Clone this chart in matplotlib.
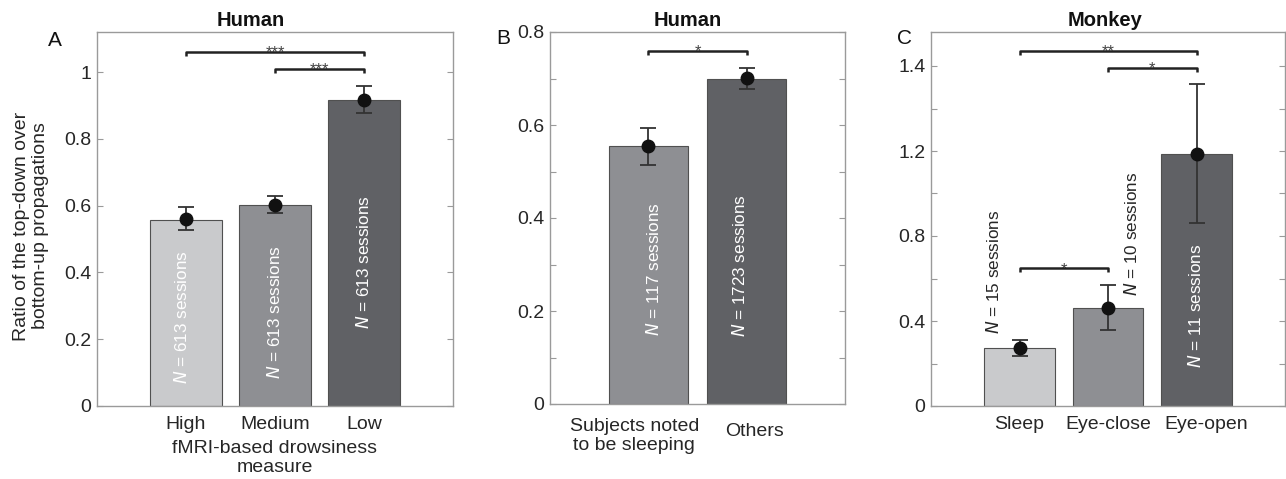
import matplotlib
matplotlib.use("Agg")
import matplotlib.pyplot as plt
import matplotlib.transforms as mtrans

plt.rcParams['font.family'] = ['Liberation Sans', 'DejaVu Sans']

# ---- data ----
a_categories = ["High", "Medium", "Low"]
a_values = [0.557, 0.602, 0.915]
a_dots = [0.561, 0.603, 0.915]
a_err_low = [0.528, 0.579, 0.876]
a_err_high = [0.596, 0.629, 0.958]
a_labels = ["613", "613", "613"]

b_categories = ["Subjects noted\nto be sleeping", "Others"]
b_values = [0.554, 0.700]
b_dots = [0.554, 0.701]
b_err_low = [0.514, 0.678]
b_err_high = [0.594, 0.722]
b_labels = ["117", "1723"]

c_categories = ["Sleep", "Eye-close", "Eye-open"]
c_values = [0.275, 0.461, 1.184]
c_dots = [0.275, 0.463, 1.186]
c_err_low = [0.234, 0.356, 0.861]
c_err_high = [0.312, 0.568, 1.515]
c_labels = ["15", "10", "11"]
c_ticks = [0, 0.4, 0.8, 1.2, 1.6]
c_ticklabels = ["0", "0.4", "0.8", "1.2", "1.4"]

LIGHT, MID, DARK = "#c9cacc", "#8e8f93", "#606165"
EDGE = "#505050"
SPINE = "#9a9a9a"
TXT = "#262626"
FS = 14

W, H = 1286, 479
fig = plt.figure(figsize=(W / 100, H / 100), dpi=100)

def px_axes(l, t, r, b):
    return fig.add_axes([l / W, 1 - b / H, (r - l) / W, (b - t) / H])

def style(ax):
    for s in ax.spines.values():
        s.set_color(SPINE)
        s.set_linewidth(1.0)
    ax.tick_params(axis='y', direction='in', length=4, width=0.8, color=SPINE,
                   right=True, labelsize=FS, labelcolor=TXT, pad=4)
    ax.tick_params(axis='y', which='minor', direction='in', length=4, width=0.8,
                   color=SPINE, right=True)
    ax.tick_params(axis='x', length=0, labelsize=FS, labelcolor=TXT, pad=7)

def shift(label, dx_px, dy_px):
    label.set_transform(label.get_transform() +
                        mtrans.ScaledTranslation(dx_px / 100, dy_px / 100, fig.dpi_scale_trans))

def bars(ax, x, vals, dots, lo, hi, colors):
    ax.bar(x, vals, width=0.8, color=colors, edgecolor=EDGE, linewidth=0.8, zorder=2)
    yerr = [[d - l for d, l in zip(dots, lo)], [h - d for d, h in zip(dots, hi)]]
    ax.errorbar(x, dots, yerr=yerr, fmt='o', color='#111111', ecolor='#333333',
                elinewidth=1.3, capsize=6, capthick=1.3, markersize=9, zorder=3)

def bracket(ax, x1, x2, y, drop, stars, fs=12):
    ax.plot([x1, x1, x2, x2], [y - drop, y, y, y - drop], color='#222222',
            lw=1.8, solid_capstyle='butt', zorder=5, clip_on=False)
    ax.annotate(stars, xy=((x1 + x2) / 2, y), xytext=(0, -4),
                textcoords='offset points', ha='center', va='baseline',
                fontsize=fs, color='#444444', zorder=4)

def nlabel(ax, x, y, n, color, va='center'):
    ax.text(x, y, r"$\mathit{N}$" + " = " + n + " sessions", rotation=90,
            ha='center', va=va, fontsize=12.3, color=color, zorder=5)

# ---- Panel A ----
axA = px_axes(97, 32, 453, 406)
xa = [1, 2, 3]
bars(axA, xa, a_values, a_dots, a_err_low, a_err_high, [LIGHT, MID, DARK])
axA.set_xlim(0, 4)
axA.set_ylim(0, 1.12)
axA.set_yticks([0, 0.2, 0.4, 0.6, 0.8, 1.0])
axA.set_yticklabels(["0", "0.2", "0.4", "0.6", "0.8", "1"])
axA.set_xticks(xa)
axA.set_xticklabels(a_categories)
style(axA)
axA.set_xlabel("fMRI-based drowsiness\nmeasure", fontsize=FS, color=TXT,
               labelpad=5, linespacing=1.15)
bracket(axA, 1, 3, 1.06, 0.012, "***")
bracket(axA, 2, 3, 1.009, 0.012, "***")
nlabel(axA, 0.944, 0.265, a_labels[0], 'white')
nlabel(axA, 2.0, 0.281, a_labels[1], 'white')
nlabel(axA, 2.99, 0.43, a_labels[2], 'white')
axA.set_title("Human", fontsize=14.5, fontweight='bold', color='#111111', pad=4, x=0.433)
fig.text(55 / W, 1 - 40 / H, "A", fontsize=15, ha='center', va='center', color='#111111')
fig.text(31 / W, 1 - 226 / H, "Ratio of the top-down over\nbottom-up propagations",
         rotation=90, ha='center', va='center', fontsize=FS, color=TXT, linespacing=1.2)

# ---- Panel B ----
axB = px_axes(550, 32, 845, 404)
xb = [1, 2]
bars(axB, xb, b_values, b_dots, b_err_low, b_err_high, [MID, DARK])
axB.set_xlim(0, 3)
axB.set_ylim(0, 0.8)
axB.set_yticks([0, 0.2, 0.4, 0.6, 0.8])
axB.set_yticklabels(["0", "0.2", "0.4", "0.6", "0.8"])
axB.set_yticks([0.1, 0.3, 0.5, 0.7], minor=True)
axB.set_xticks(xb)
axB.set_xticklabels(b_categories, linespacing=1.15)
style(axB)
axB.tick_params(axis='x', pad=10)
tl = axB.get_xticklabels()
shift(tl[0], -14, 0)
shift(tl[1], 8, -5)
bracket(axB, 1, 2, 0.76, 0.009, "*")
nlabel(axB, 1.054, 0.289, b_labels[0], 'white')
nlabel(axB, 1.924, 0.298, b_labels[1], 'white')
axB.set_title("Human", fontsize=14.5, fontweight='bold', color='#111111', pad=4, x=0.467)
fig.text(503 / W, 1 - 38 / H, "B", fontsize=15, ha='center', va='center', color='#111111')

# ---- Panel C ----
axC = px_axes(931, 32, 1285, 406)
xc = [1, 2, 3]
bars(axC, xc, c_values, c_dots, c_err_low, c_err_high, [LIGHT, MID, DARK])
axC.set_xlim(0, 4)
axC.set_ylim(0, 1.76)
axC.set_yticks(c_ticks)
axC.set_yticklabels(c_ticklabels)
axC.set_yticks([0.2, 0.6, 1.0, 1.4], minor=True)
axC.set_xticks(xc)
axC.set_xticklabels(c_categories)
style(axC)
tc = axC.get_xticklabels()
shift(tc[2], 10, 0)
bracket(axC, 1, 3, 1.672, 0.018, "**")
bracket(axC, 2, 3, 1.592, 0.018, "*")
bracket(axC, 1, 2, 0.649, 0.018, "*")
nlabel(axC, 0.71, 0.34, c_labels[0], TXT, va='bottom')
nlabel(axC, 2.26, 0.52, c_labels[1], TXT, va='bottom')
nlabel(axC, 2.99, 0.47, c_labels[2], 'white')
axC.set_title("Monkey", fontsize=14.5, fontweight='bold', color='#111111', pad=4, x=0.491)
fig.text(905 / W, 1 - 39 / H, "C", fontsize=15, ha='center', va='center', color='#111111')

fig.savefig("out.png", dpi=100, facecolor='white')
